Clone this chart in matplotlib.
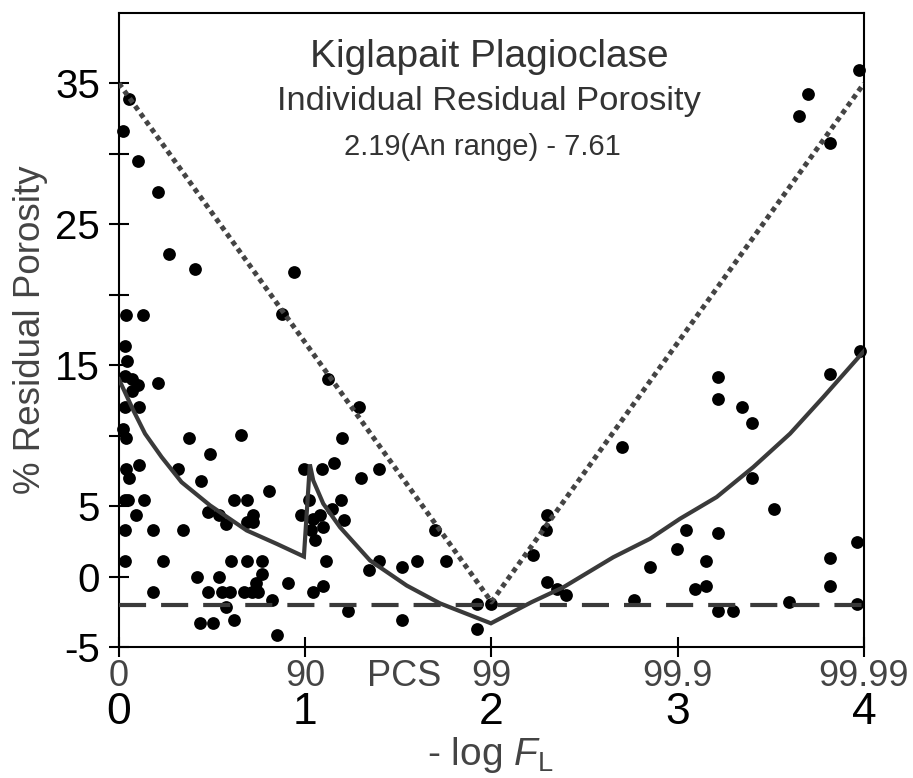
import matplotlib
matplotlib.use("Agg")
import matplotlib.pyplot as plt
from matplotlib.ticker import FixedLocator, FixedFormatter

plt.rcParams['font.family'] = ['Liberation Sans', 'DejaVu Sans']
plt.rcParams['mathtext.fontset'] = 'custom'
plt.rcParams['mathtext.rm'] = 'Liberation Sans'
plt.rcParams['mathtext.it'] = 'Liberation Sans:italic'

# ---- data ----
x_pts = [0.055, 0.023, 0.10, 0.21, 0.27, 0.41, 0.94, 0.036, 0.13, 0.877,
         0.032, 0.041, 0.032, 0.068, 0.104, 0.071, 0.21, 0.032, 0.109,
         0.023, 0.036, 0.378, 0.655, 0.489, 0.038, 0.055, 0.109, 0.315, 0.44, 0.807,
         0.032, 0.05, 0.133, 0.09, 0.617, 0.689, 0.48, 0.537, 0.573, 0.718, 0.689, 0.72,
         0.032, 0.184, 0.345,
         0.032, 0.238, 0.6, 0.69, 0.766, 0.766, 0.734, 0.42, 0.537, 0.906,
         0.184, 0.48, 0.551, 0.596, 0.673, 0.712, 0.748, 0.823, 0.573, 0.435, 0.507, 0.617, 0.846,
         0.995, 1.088, 1.155, 1.022, 0.977, 1.043, 1.079, 1.031, 1.097, 1.052, 1.142, 1.19, 1.21,
         1.11, 1.094, 1.043, 1.23, 1.12, 1.199, 1.289, 1.299, 1.396,
         1.697, 1.396, 1.60, 1.754, 1.344, 1.52, 1.52, 1.92, 1.997, 1.92,
         2.699, 2.30, 2.295, 2.221, 2.30, 2.35, 2.398, 2.765, 2.851, 2.994,
         3.98, 3.82, 3.218, 3.218, 3.347, 3.397, 3.397, 3.519, 3.044, 3.218, 3.152, 3.152, 3.093,
         3.96, 3.82, 3.82, 3.60, 3.96, 3.218, 3.298,
         3.975, 3.697, 3.653, 3.82]
y_pts = [33.9, 31.65, 29.5, 27.3, 22.9, 21.85, 21.6, 18.55, 18.55, 18.6,
         16.35, 15.28, 14.2, 14.0, 13.6, 13.2, 13.77, 12.03, 12.03,
         10.5, 9.86, 9.86, 10.04, 8.72, 7.65, 6.99, 7.89, 7.65, 6.75, 6.06,
         5.45, 5.45, 5.45, 4.34, 5.45, 5.45, 4.57, 4.34, 3.7, 4.34, 3.9, 3.9,
         3.27, 3.27, 3.27,
         1.09, 1.09, 1.09, 1.09, 1.09, 0.19, -0.47, 0.0, 0.0, -0.47,
         -1.1, -1.1, -1.1, -1.1, -1.1, -1.1, -1.1, -1.7, -2.18, -3.29, -3.29, -3.06, -4.15,
         7.65, 7.65, 8.05, 5.45, 4.38, 4.1, 4.38, 3.27, 3.5, 2.6, 4.81, 5.45, 3.98,
         1.09, -0.64, -1.1, -2.42, 14.0, 9.86, 12.03, 6.99, 7.65,
         3.27, 1.09, 1.09, 1.09, 0.43, 0.66, -3.06, -1.94, -1.94, -3.72,
         9.19, 4.38, 3.27, 1.54, -0.4, -0.88, -1.3, -1.7, 0.66, 1.97,
         15.99, 14.4, 14.17, 12.63, 12.03, 10.92, 6.99, 4.81, 3.27, 3.08, 1.09, -0.64, -0.88,
         2.44, 1.30, -0.64, -1.78, -1.94, -2.42, -2.42,
         35.96, 34.26, 32.72, 30.75]

curve_x = [0.0, 0.077, 0.14, 0.229, 0.336, 0.489, 0.686, 0.847, 0.993,
           1.025, 1.043, 1.097, 1.187, 1.348, 1.545, 1.723, 1.997,
           2.215, 2.386, 2.654, 2.851, 3.012, 3.209, 3.406, 3.603, 3.782, 4.0]
curve_y = [14.0, 11.8, 10.14, 8.48, 6.7, 5.05, 3.27, 2.32, 1.42,
           7.96, 6.82, 5.17, 3.5, 1.14, -0.64, -1.9, -3.32,
           -1.82, -0.76, 1.37, 2.68, 4.1, 5.64, 7.77, 10.14, 12.74, 16.0]

dotted_x = [0, 2, 4]
dotted_y = [35, -1.8, 35]

dashed_x = [0, 4]
dashed_y = [-2, -2]

y_ticks = [-5, 0, 5, 10, 15, 20, 25, 30, 35]
y_ticklabels = ['-5', '0', '5', '', '15', '', '25', '', '35']
x_ticks = [0, 1, 2, 3, 4]
x_ticklabels = ['0', '1', '2', '3', '4']
pct_labels = ['0', '90', '99', '99.9', '99.99']
pcs_x = 1.53

# ---- figure ----
fig = plt.figure(figsize=(9.13, 7.78), dpi=100)
ax = fig.add_axes([0.1303, 0.1684, 0.816, 0.8149])

line_col = '#3a3a3a'
ax.plot(x_pts, y_pts, 'o', color='black', markersize=9.2, markeredgewidth=0,
        clip_on=False, zorder=3)
ax.plot(dotted_x, dotted_y, color='#444444', lw=3.6, linestyle=(0, (1, 0.85)),
        dash_capstyle='butt', zorder=4)
ax.plot(dashed_x, dashed_y, color=line_col, lw=3.0, linestyle=(0, (6.5, 3.6)),
        dash_capstyle='butt', zorder=4)
ax.plot(curve_x, curve_y, color=line_col, lw=3.0, solid_joinstyle='miter', zorder=4)

ax.set_xlim(0, 4)
ax.set_ylim(-5, 40)

for s in ax.spines.values():
    s.set_linewidth(1.5)

ax.yaxis.set_major_locator(FixedLocator(y_ticks))
ax.yaxis.set_major_formatter(FixedFormatter(y_ticklabels))
ax.xaxis.set_major_locator(FixedLocator(x_ticks))
ax.xaxis.set_major_formatter(FixedFormatter(x_ticklabels))
ax.tick_params(axis='y', direction='inout', length=14.4, width=1.5, pad=6.5,
               labelsize=29, labelcolor='black')
ax.tick_params(axis='x', direction='inout', length=14.4, width=1.5, pad=25,
               labelsize=32, labelcolor='black')

for xv, lab in zip(x_ticks, pct_labels):
    ax.annotate(lab, xy=(xv, 0), xycoords=('data', 'axes fraction'),
                xytext=(0, -9), textcoords='offset points', ha='center', va='top',
                fontsize=26, color='#444444')
ax.annotate('PCS', xy=(pcs_x, 0), xycoords=('data', 'axes fraction'),
            xytext=(0, -9), textcoords='offset points', ha='center', va='top',
            fontsize=26, color='#444444')

ax.set_ylabel('% Residual Porosity', fontsize=26.5, color='#444444')
ax.yaxis.set_label_coords(-0.095, 0.5)
fig.text(0.5365, 0.004, r'- log $\mathit{F}_{\mathrm{L}}$', ha='center', va='bottom',
         fontsize=28, color='#444444')

ax.text(0.497, 0.915, 'Kiglapait Plagioclase', transform=ax.transAxes,
        ha='center', va='baseline', fontsize=28, color='#333333')
ax.text(0.497, 0.847, 'Individual Residual Porosity', transform=ax.transAxes,
        ha='center', va='baseline', fontsize=24.8, color='#333333')
ax.text(0.488, 0.776, '2.19(An range) - 7.61', transform=ax.transAxes,
        ha='center', va='baseline', fontsize=21, color='#333333')

fig.savefig('out.png', dpi=100)
